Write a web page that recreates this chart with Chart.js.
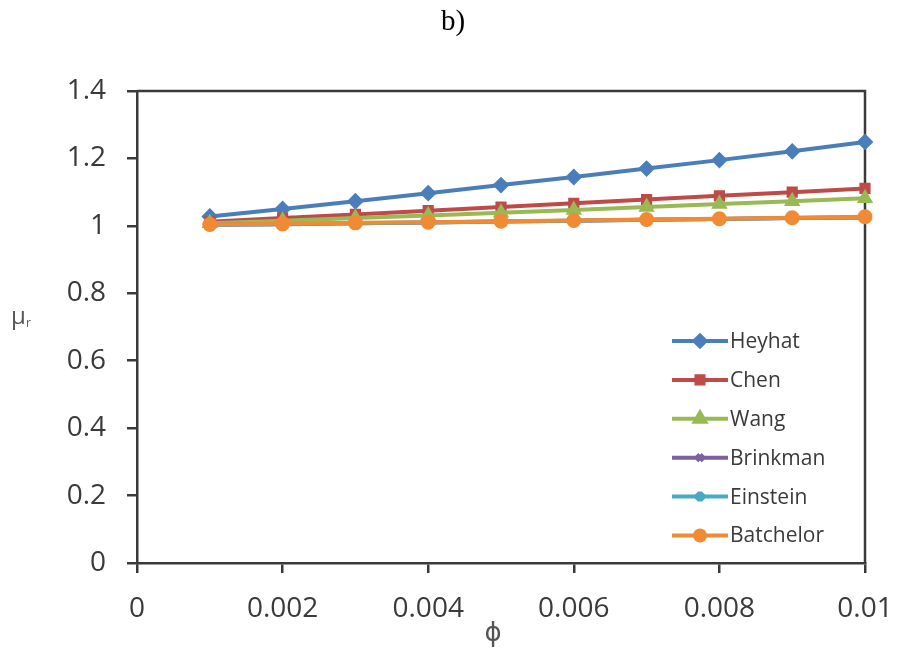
<!DOCTYPE html>
<html>
<head>
<meta charset="utf-8">
<script src="https://cdn.jsdelivr.net/npm/chart.js@4"></script>
<style>
  html, body { margin: 0; padding: 0; background: #ffffff; }
  #wrap { width: 897px; height: 658px; position: relative; }
</style>
</head>
<body>
<div id="wrap"><canvas id="chart"></canvas></div>
<script>
  // ── data ──────────────────────────────────────────────
  const phiValues = [0.001, 0.002, 0.003, 0.004, 0.005, 0.006, 0.007, 0.008, 0.009, 0.01];
  const heyhat    = [1.028, 1.050, 1.073, 1.097, 1.121, 1.145, 1.170, 1.195, 1.221, 1.249];
  const chen      = [1.012, 1.023, 1.034, 1.045, 1.056, 1.067, 1.078, 1.089, 1.100, 1.111];
  const wang      = [1.008, 1.015, 1.023, 1.031, 1.039, 1.047, 1.056, 1.065, 1.073, 1.082];
  const brinkman  = [1.003, 1.005, 1.008, 1.010, 1.013, 1.015, 1.018, 1.020, 1.023, 1.025];
  const einstein  = [1.003, 1.005, 1.008, 1.010, 1.013, 1.015, 1.018, 1.020, 1.023, 1.025];
  const batchelor = [1.004, 1.006, 1.009, 1.011, 1.014, 1.016, 1.019, 1.021, 1.024, 1.027];
  const xTicks = [0, 0.002, 0.004, 0.006, 0.008, 0.01];
  const yTicks = [0, 0.2, 0.4, 0.6, 0.8, 1, 1.2, 1.4];

  const SERIES = [
    { label: 'Heyhat',    data: heyhat,    color: '#4A7EBB', style: 'rectRot',  radius: 7 },
    { label: 'Chen',      data: chen,      color: '#BE4B48', style: 'rect',     radius: 6.5 },
    { label: 'Wang',      data: wang,      color: '#98B954', style: 'triangle', radius: 7.5 },
    { label: 'Brinkman',  data: brinkman,  color: '#7D60A0', style: 'crossRot', radius: 6 },
    { label: 'Einstein',  data: einstein,  color: '#46AAC5', style: 'star',     radius: 6.5 },
    { label: 'Batchelor', data: batchelor, color: '#F08A34', style: 'circle',   radius: 6.5 },
  ];

  const TEXT = '#3a3a3a';
  const AXIS = '#3a3a3a';
  const TICK_FONT = { family: 'Open Sans', size: 28 };

  function fmt(v, d) { return String(Number(v.toFixed(d))); }

  // ── plugin: frame, titles, legend ─────────────────────
  const decorations = {
    id: 'decorations',
    beforeDatasetsDraw(chart) {
      const a = chart.chartArea, ctx = chart.ctx;
      ctx.save();
      ctx.strokeStyle = AXIS;
      ctx.lineWidth = 2.5;
      ctx.beginPath();
      ctx.moveTo(a.left, a.top);
      ctx.lineTo(a.right, a.top);
      ctx.lineTo(a.right, a.bottom);
      ctx.stroke();
      ctx.restore();
    },
    afterDraw(chart) {
      const ctx = chart.ctx;
      ctx.save();
      // top caption
      ctx.fillStyle = '#000';
      ctx.font = '29px "Liberation Serif", serif';
      ctx.textAlign = 'center';
      ctx.textBaseline = 'middle';
      ctx.fillText('b)', 453, 22);

      // y title  μr
      ctx.fillStyle = '#555';
      ctx.textAlign = 'left';
      ctx.font = '24px "Open Sans", sans-serif';
      ctx.fillText('μ', 11, 317);
      ctx.font = '12px "Open Sans", sans-serif';
      ctx.fillText('r', 26, 324);

      // x title  ϕ
      ctx.textAlign = 'center';
      ctx.font = '26px "DejaVu Sans", sans-serif';
      ctx.fillText('ϕ', 493, 634);

      // legend
      const x0 = 672, x1 = 728, yStart = 341, step = 38.9;
      const draw = (Chart.helpers && Chart.helpers.drawPoint) || null;
      SERIES.forEach(function (s, i) {
        const y = yStart + i * step;
        ctx.strokeStyle = s.color;
        ctx.lineWidth = 4;
        ctx.beginPath();
        ctx.moveTo(x0, y);
        ctx.lineTo(x1, y);
        ctx.stroke();
        ctx.fillStyle = s.color;
        if (draw) {
          draw(ctx, { pointStyle: s.style, radius: s.radius - 1.5, borderWidth: 2, rotation: 0 }, (x0 + x1) / 2, y);
        }
        ctx.fillStyle = TEXT;
        ctx.textAlign = 'left';
        ctx.textBaseline = 'middle';
        ctx.font = '21px "Open Sans", sans-serif';
        ctx.fillText(s.label, x1 + 2, y + 1);
      });
      ctx.restore();
    }
  };

  // ── chart ─────────────────────────────────────────────
  new Chart(document.getElementById('chart').getContext('2d'), {
    type: 'line',
    data: {
      labels: phiValues,
      datasets: SERIES.map(function (s) {
        return {
          label: s.label,
          data: phiValues.map(function (x, i) { return { x: x, y: s.data[i] }; }),
          borderColor: s.color,
          backgroundColor: s.color,
          pointBorderColor: s.color,
          pointBackgroundColor: s.color,
          pointStyle: s.style,
          pointRadius: s.radius,
          pointBorderWidth: 2,
          borderWidth: 4,
          tension: 0,
          fill: false,
          clip: false,
        };
      }).reverse(),
    },
    options: {
      responsive: true,
      maintainAspectRatio: false,
      animation: false,
      layout: { padding: { top: 91, right: 32, left: 0, bottom: 0 } },
      plugins: {
        legend: { display: false },
        title: { display: false },
        tooltip: { enabled: false },
      },
      scales: {
        x: {
          type: 'linear',
          min: 0, max: 0.01,
          afterBuildTicks(scale) { scale.ticks = xTicks.map(function (v) { return { value: v }; }); },
          afterFit(scale) { scale.height = 95; scale.paddingLeft = 0; scale.paddingRight = 0; },
          ticks: {
            color: TEXT, font: TICK_FONT, padding: 19, maxRotation: 0,
            callback: function (v) { return fmt(v, 4); },
          },
          grid: { drawOnChartArea: false, drawTicks: true, tickLength: 10, color: AXIS, lineWidth: 2.5 },
          border: { display: true, color: AXIS, width: 2.5 },
        },
        y: {
          type: 'linear',
          min: 0, max: 1.4,
          afterBuildTicks(scale) { scale.ticks = yTicks.map(function (v) { return { value: v }; }); },
          afterFit(scale) { scale.width = 137; scale.paddingTop = 0; scale.paddingBottom = 0; },
          ticks: {
            color: TEXT, font: TICK_FONT, padding: 21,
            callback: function (v) { return fmt(v, 1); },
          },
          grid: { drawOnChartArea: false, drawTicks: true, tickLength: 10, color: AXIS, lineWidth: 2.5 },
          border: { display: true, color: AXIS, width: 2.5 },
        },
      },
    },
    plugins: [decorations],
  });
</script>
</body>
</html>
